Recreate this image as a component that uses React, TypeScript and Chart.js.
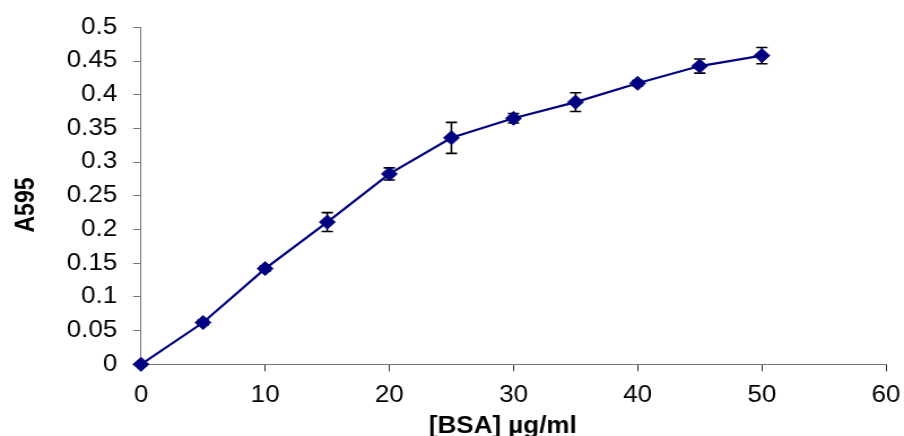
import React, { useEffect, useRef } from "react";
import { Chart, registerables } from "chart.js";

Chart.register(...registerables);

// ---- data ----
const concentrations = [0, 5, 10, 15, 20, 25, 30, 35, 40, 45, 50];
const absorbance = [0, 0.062, 0.142, 0.211, 0.2825, 0.336, 0.365, 0.389, 0.417, 0.4425, 0.458];
const stdErrors = [0, 0.004, 0.004, 0.014, 0.009, 0.023, 0.007, 0.014, 0.004, 0.0105, 0.012];
const xTitle = "[BSA] µg/ml";
const yTitle = "A595";

// ---- styling ----
const STRETCH = 1.13;
const CANVAS_W = 800;
const CANVAS_H = 436;
const FONT = "'Liberation Sans', Arial, sans-serif";
const NAVY = "#000080";

const errorBarPlugin = {
  id: "errorBars",
  beforeDatasetsDraw(chart: any) {
    const xs = chart.scales.x;
    const ys = chart.scales.y;
    const ctx = chart.ctx;
    ctx.save();
    ctx.strokeStyle = "#000";
    ctx.lineWidth = 1.6;
    for (let i = 0; i < concentrations.length; i++) {
      const e = stdErrors[i];
      if (!e) continue;
      const px = xs.getPixelForValue(concentrations[i]);
      const top = ys.getPixelForValue(absorbance[i] + e);
      const bot = ys.getPixelForValue(absorbance[i] - e);
      const cap = 5;
      ctx.beginPath();
      ctx.moveTo(px, top);
      ctx.lineTo(px, bot);
      ctx.moveTo(px - cap, top);
      ctx.lineTo(px + cap, top);
      ctx.moveTo(px - cap, bot);
      ctx.lineTo(px + cap, bot);
      ctx.stroke();
    }
    ctx.restore();
  },
};

const axisTitlePlugin = {
  id: "axisTitles",
  afterDraw(chart: any) {
    const ctx = chart.ctx;
    ctx.save();
    ctx.fillStyle = "#000";
    ctx.font = `bold 23px ${FONT}`;
    ctx.textAlign = "center";
    ctx.textBaseline = "alphabetic";
    ctx.fillText(xTitle, 445, 433);
    ctx.translate(29.5, 205);
    ctx.rotate(-Math.PI / 2);
    ctx.fillText(yTitle, 0, 0);
    ctx.restore();
  },
};

export default function App() {
  const canvasRef = useRef<HTMLCanvasElement | null>(null);

  useEffect(() => {
    document.body.style.margin = "0";
    const canvas = canvasRef.current;
    if (!canvas) return;
    const chart = new Chart(canvas, {
      type: "line",
      data: {
        datasets: [
          {
            data: concentrations.map((c, i) => ({ x: c, y: absorbance[i] })),
            borderColor: NAVY,
            backgroundColor: NAVY,
            borderWidth: 2.2,
            pointStyle: "rectRot",
            pointRadius: 7,
            pointBorderWidth: 1,
            pointBackgroundColor: NAVY,
            pointBorderColor: NAVY,
            tension: 0,
            clip: false as any,
          },
        ],
      },
      options: {
        animation: false,
        responsive: false,
        devicePixelRatio: 1,
        layout: { padding: { left: 0, right: CANVAS_W - 886 / STRETCH, top: 27.3, bottom: 0 } },
        plugins: { legend: { display: false }, tooltip: { enabled: false } },
        scales: {
          x: {
            type: "linear",
            min: 0,
            max: 60,
            ticks: {
              stepSize: 10,
              color: "#000",
              font: { family: FONT, size: 23 },
              padding: 11,
              maxRotation: 0,
              autoSkip: false,
            },
            grid: { drawOnChartArea: false, drawTicks: true, tickLength: 7, color: "#333" },
            border: { color: "#777", width: 1 },
            afterFit: (scale: any) => {
              scale.height = CANVAS_H - 364.3;
              scale.paddingLeft = 0;
              scale.paddingRight = 0;
            },
          },
          y: {
            type: "linear",
            min: 0,
            max: 0.5,
            ticks: {
              stepSize: 0.05,
              color: "#000",
              font: { family: FONT, size: 23 },
              padding: 14,
              callback: (v: any) => String(Number(Number(v).toFixed(2))),
            },
            grid: { drawOnChartArea: false, drawTicks: true, tickLength: 7, color: "#777" },
            border: { color: "#777", width: 1 },
            afterFit: (scale: any) => {
              scale.width = 141 / STRETCH;
              scale.paddingTop = 0;
              scale.paddingBottom = 0;
            },
          },
        },
      },
      plugins: [errorBarPlugin, axisTitlePlugin],
    });
    return () => chart.destroy();
  }, []);

  return (
    <canvas
      ref={canvasRef}
      width={CANVAS_W}
      height={CANVAS_H}
      style={{ width: "904px", height: "436px", display: "block" }}
    />
  );
}
